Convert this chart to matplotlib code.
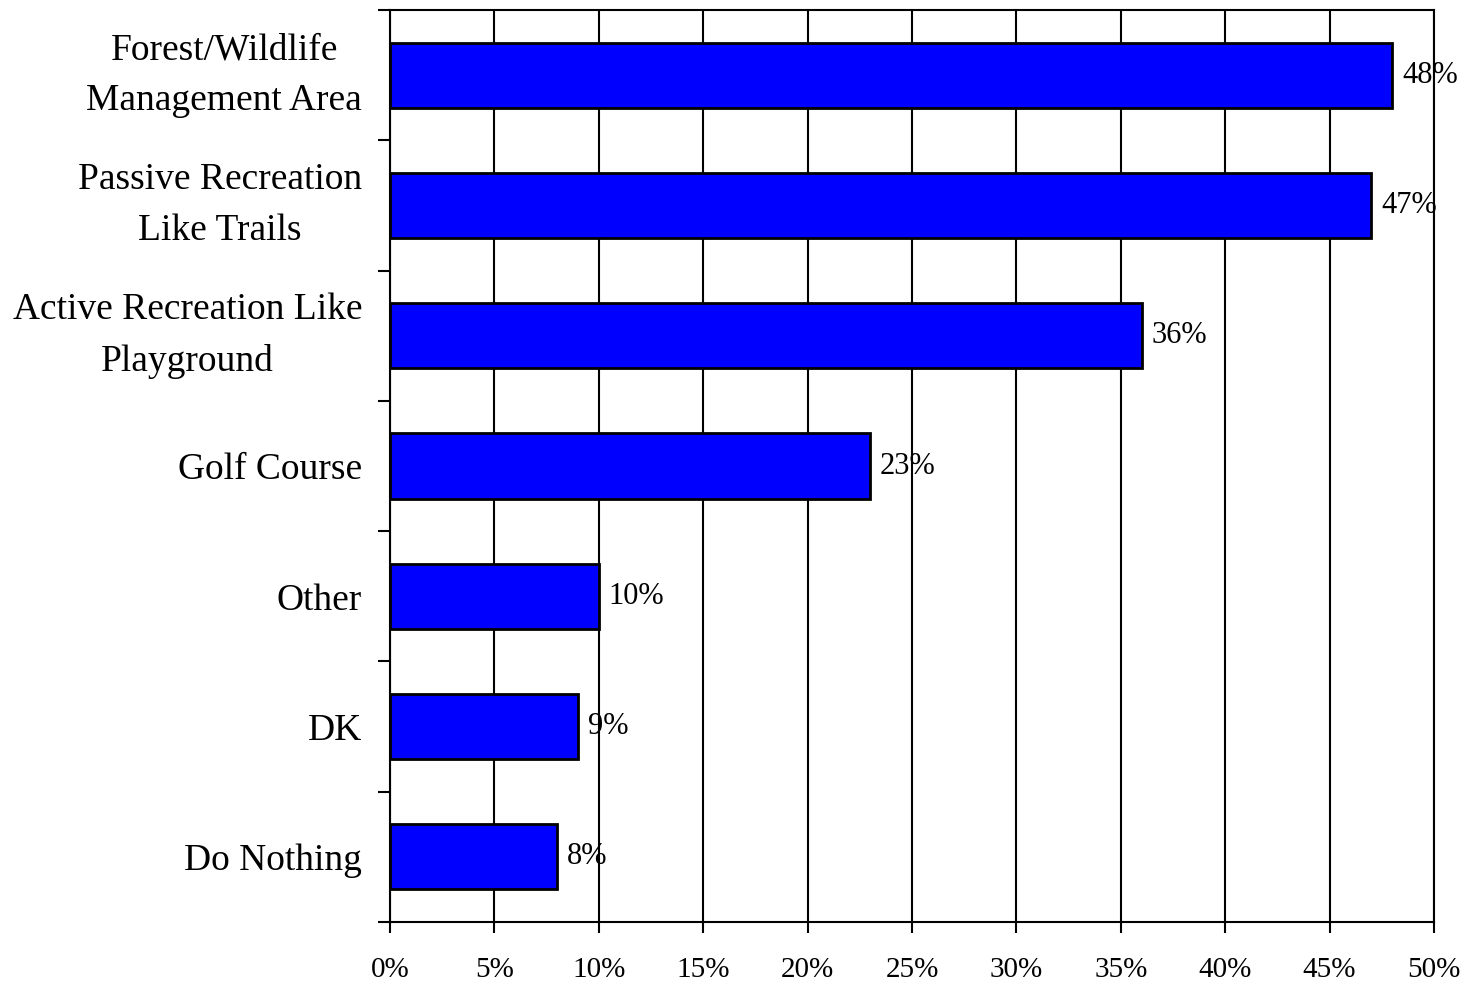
import numpy as np
import matplotlib.pyplot as plt
from matplotlib.ticker import FuncFormatter

plt.rcParams['font.family'] = ['Liberation Serif', 'DejaVu Serif']

categories = ['Forest/Wildlife\nManagement Area', 'Passive Recreation\nLike Trails',
              'Active Recreation Like\nPlayground', 'Golf Course', 'Other', 'DK',
              'Do Nothing']
values = [48, 47, 36, 23, 10, 9, 8]
x_ticks = [0, 5, 10, 15, 20, 25, 30, 35, 40, 45, 50]

fig = plt.figure(figsize=(14.65, 9.84), dpi=100)
ax = fig.add_axes([390 / 1465, 1 - 922 / 984, (1434 - 390) / 1465, (922 - 10) / 984])

y = np.arange(len(categories))
ax.barh(y, values, height=0.5, color='#0000ff', edgecolor='black', linewidth=2, zorder=3)

for yi, v in zip(y, values):
    ax.annotate(f'{v}%', (v, yi), xytext=(7, 0), textcoords='offset points',
                va='center', ha='left', fontsize=22, zorder=4)

ax.set_xlim(0, 50)
ax.set_ylim(len(categories) - 0.5, -0.5)
ax.set_xticks(x_ticks)
ax.xaxis.set_major_formatter(FuncFormatter(lambda v, p: f'{v:.0f}%'))
ax.grid(axis='x', color='black', linewidth=1.5, zorder=1)

ax.set_yticks(y)
ax.set_yticklabels(categories, fontsize=27, linespacing=1.6)
for lab in ax.get_yticklabels():
    lab.set_multialignment('center')
    if '\n' in lab.get_text():
        lab.set_verticalalignment('center')
ax.set_yticks(np.arange(len(categories) + 1) - 0.5, minor=True)
ax.tick_params(axis='y', which='major', length=0, pad=20)
ax.tick_params(axis='y', which='minor', length=9, width=1.5, direction='out')
ax.tick_params(axis='x', which='major', length=8, width=1.5, direction='out',
               labelsize=21, pad=17)

for s in ax.spines.values():
    s.set_linewidth(1.5)
    s.set_color('black')

fig.savefig('out.png', dpi=100)
